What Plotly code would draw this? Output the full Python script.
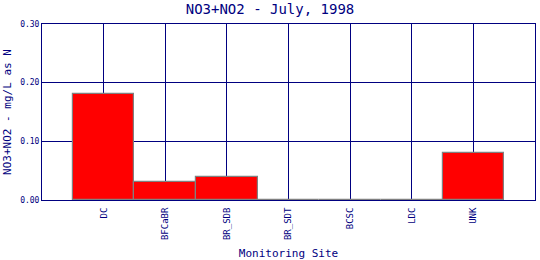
import plotly.graph_objects as go

sites = ["DC", "BFCaBR", "BR_SDB", "BR_SDT", "BCSC", "LDC", "UNK"]
values = [0.18, 0.03, 0.04, 0.0, 0.0, 0.0, 0.08]
y_ticks = [0.0, 0.1, 0.2, 0.3]
y_tick_labels = ["0.00", "0.10", "0.20", "0.30"]

navy = "#000080"
font = "DejaVu Sans Mono"

positions = list(range(1, len(sites) + 1))

fig = go.Figure(go.Bar(
    x=positions, y=values, width=1.0,
    marker=dict(color="#ff0000", line=dict(color="#808080", width=1.2)),
))

fig.update_layout(
    width=540, height=260,
    margin=dict(l=42, r=5, t=24, b=60, autoexpand=False),
    paper_bgcolor="white", plot_bgcolor="white",
    showlegend=False,
    title=dict(text="NO3+NO2 - July, 1998", x=0.5, xanchor="center",
               y=0.985, yanchor="top",
               font=dict(family=font, size=14, color=navy)),
    bargap=0,
)
fig.update_xaxes(
    range=[0, len(sites) + 1], tickvals=positions, ticktext=sites,
    tickangle=-90, tickfont=dict(family=font, size=9, color=navy),
    showgrid=True, gridcolor=navy, gridwidth=1,
    showline=True, linecolor=navy, linewidth=1, mirror=True,
    zeroline=False, ticks="outside", ticklen=3, tickcolor="rgba(0,0,0,0)",
    automargin=False,
    title=dict(text="Monitoring Site", font=dict(family=font, size=11, color=navy), standoff=14),
)
fig.update_yaxes(
    range=[0, 0.3], tickvals=y_ticks, ticktext=y_tick_labels,
    tickfont=dict(family=font, size=8, color=navy),
    showgrid=True, gridcolor=navy, gridwidth=1,
    showline=True, linecolor=navy, linewidth=1, mirror=True,
    zeroline=False, ticks="", automargin=False,
    title=dict(text="NO3+NO2 - mg/L as N", font=dict(family=font, size=11, color=navy), standoff=6),
)

fig.write_html("out.html")
